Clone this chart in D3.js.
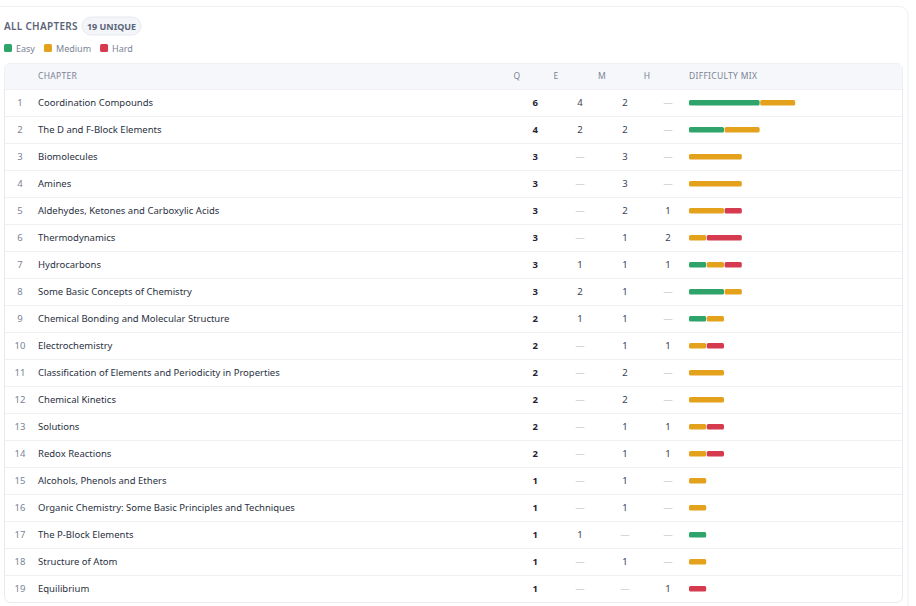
<!DOCTYPE html>
<html><head><meta charset="utf-8">
<script src="https://cdn.jsdelivr.net/npm/d3@7"></script>
<style>body{margin:0;background:#fff;font-family:"Segoe UI","Noto Sans",sans-serif}</style>
</head><body><div id="chart"></div>
<script>
const chapters = ["Coordination Compounds","The D and F-Block Elements","Biomolecules","Amines","Aldehydes, Ketones and Carboxylic Acids","Thermodynamics","Hydrocarbons","Some Basic Concepts of Chemistry","Chemical Bonding and Molecular Structure","Electrochemistry","Classification of Elements and Periodicity in Properties","Chemical Kinetics","Solutions","Redox Reactions","Alcohols, Phenols and Ethers","Organic Chemistry: Some Basic Principles and Techniques","The P-Block Elements","Structure of Atom","Equilibrium"];
const easy   = [4,2,0,0,0,0,1,2,1,0,0,0,0,0,0,0,1,0,0];
const medium = [2,2,3,3,2,1,1,1,1,1,2,2,1,1,1,1,0,1,0];
const hard   = [0,0,0,0,1,2,1,0,0,1,0,0,1,1,0,0,0,0,1];
const levels = ["Easy","Medium","Hard"];
const colors = ["#2ea36a","#e4a21c","#d63a4f"];

const W = 916, H = 606;
const svg = d3.select("#chart").append("svg").attr("width", W).attr("height", H)
  .style("font-family", '"Segoe UI","Noto Sans",sans-serif');

// outer card
svg.append("rect").attr("x", -10).attr("y", 6.5).attr("width", W + 2).attr("height", H + 10)
  .attr("rx", 8).attr("fill", "#fff").attr("stroke", "#eef0f4");

svg.append("text").attr("x", 4).attr("y", 30).attr("font-size", 10).attr("font-weight", 600)
  .attr("fill", "#5b6478").attr("letter-spacing", 0.3).text("ALL CHAPTERS");
svg.append("rect").attr("x", 82).attr("y", 17).attr("width", 59).attr("height", 18).attr("rx", 9)
  .attr("fill", "#f3f5f9").attr("stroke", "#e6e9ef");
svg.append("text").attr("x", 111.5).attr("y", 30).attr("text-anchor", "middle").attr("font-size", 9)
  .attr("font-weight", 700).attr("fill", "#5b6478").text("19 UNIQUE");

// legend
let lx = 4;
levels.forEach((l, i) => {
  svg.append("rect").attr("x", lx).attr("y", 44).attr("width", 8).attr("height", 8).attr("rx", 1.5).attr("fill", colors[i]);
  const t = svg.append("text").attr("x", lx + 12).attr("y", 51.5).attr("font-size", 9).attr("fill", "#7a8396").text(l);
  lx += 12 + t.node().getComputedTextLength() + 9;
});

// table
const tx = 4, tw = 898, tTop = 63, headH = 26, rowH = 27;
const tH = headH + rowH * chapters.length;
svg.append("rect").attr("x", tx + 0.5).attr("y", tTop + 0.5).attr("width", tw).attr("height", tH)
  .attr("rx", 6).attr("fill", "#fff").attr("stroke", "#e6e9ef");
svg.append("path").attr("d", `M${tx+0.5},${tTop+headH} V${tTop+6.5} q0,-6 6,-6 H${tx+tw-5.5} q6,0 6,6 V${tTop+headH} Z`)
  .attr("fill", "#f6f7fa");

const y = d3.scaleBand().domain(d3.range(chapters.length)).range([tTop + headH, tTop + tH]);
const x = d3.scaleLinear().domain([0, 1]).range([0, 17.8]);
const barX = 689;

const hdr = [["CHAPTER",38,"start"],["Q",517,"middle"],["E",556,"middle"],["M",602,"middle"],["H",647,"middle"],["DIFFICULTY MIX",689,"start"]];
hdr.forEach(([t, hx, a]) => svg.append("text").attr("x", hx).attr("y", tTop + 16).attr("text-anchor", a)
  .attr("font-size", 8.5).attr("fill", "#7a8396").attr("letter-spacing", 0.3).text(t));

const rows = svg.append("g").selectAll("g").data(chapters).join("g")
  .attr("transform", (d, i) => `translate(0,${y(i)})`);
rows.append("line").attr("x1", tx + 1).attr("x2", tx + tw).attr("y1", 0.5).attr("y2", 0.5).attr("stroke", "#eef0f3");
const cy = rowH / 2 + 3.5;
rows.append("text").attr("x", 20).attr("y", cy).attr("text-anchor", "middle").attr("font-size", 9.5)
  .attr("fill", "#7a8396").text((d, i) => i + 1);
rows.append("text").attr("x", 38).attr("y", cy).attr("font-size", 9.5).attr("fill", "#2a3142").text(d => d);
rows.append("text").attr("x", 538).attr("y", cy).attr("text-anchor", "end").attr("font-size", 9.5)
  .attr("font-weight", 700).attr("fill", "#1f2535").text((d, i) => easy[i] + medium[i] + hard[i]);
[[easy,580],[medium,625],[hard,668]].forEach(([arr, cx]) => {
  rows.append("text").attr("x", cx).attr("y", cy).attr("text-anchor", "middle").attr("font-size", 9.5)
    .attr("fill", (d, i) => arr[i] ? "#3a4152" : "#b8bec9").text((d, i) => arr[i] || "—");
});
rows.each(function(d, i) {
  const vals = [easy[i], medium[i], hard[i]];
  let acc = 0;
  const g = d3.select(this);
  vals.forEach((v, k) => {
    if (!v) return;
    g.append("rect").attr("x", barX + x(acc)).attr("y", rowH / 2 - 2.5).attr("width", x(v) - 0.6)
      .attr("height", 5.5).attr("rx", 1.5).attr("fill", colors[k]);
    acc += v;
  });
});
</script></body></html>
